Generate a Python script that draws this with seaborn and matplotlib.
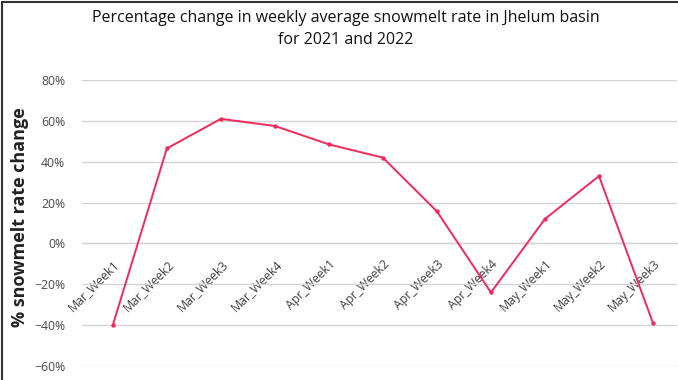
import matplotlib
matplotlib.use("Agg")
import matplotlib.pyplot as plt
import matplotlib.lines as mlines
from matplotlib.ticker import PercentFormatter
import seaborn as sns
import pandas as pd

weeks = ["Mar_Week1", "Mar_Week2", "Mar_Week3", "Mar_Week4",
         "Apr_Week1", "Apr_Week2", "Apr_Week3", "Apr_Week4",
         "May_Week1", "May_Week2", "May_Week3"]
pct_change = [-0.40, 0.465, 0.61, 0.575, 0.485, 0.42, 0.157, -0.24, 0.12, 0.33, -0.39]
y_ticks = [-0.6, -0.4, -0.2, 0.0, 0.2, 0.4, 0.6, 0.8]

sns.set_theme(style="white")
plt.rcParams["font.family"] = ["Open Sans", "DejaVu Sans"]

df = pd.DataFrame({"idx": range(len(weeks)), "week": weeks, "change": pct_change})

fig = plt.figure(figsize=(6.78, 3.80), dpi=100)
ax = fig.add_axes([0.121, 0.0368, 0.878, 0.7526])

sns.lineplot(data=df, x="idx", y="change", ax=ax, color="#F2295C",
             linewidth=1.4, marker="o", markersize=3.2,
             markeredgewidth=0, zorder=3)

ax.set_xlim(-0.57, 10.45)
ax.set_ylim(-0.6, 0.8)
ax.set_yticks(y_ticks)
ax.yaxis.set_major_formatter(PercentFormatter(1.0, decimals=0))
ax.yaxis.grid(True, color="#D4D4D4", linewidth=1.0)
ax.set_axisbelow(True)

for s in ["top", "right", "left"]:
    ax.spines[s].set_visible(False)
ax.spines["bottom"].set_position(("data", 0))
ax.spines["bottom"].set_color("#D4D4D4")
ax.spines["bottom"].set_linewidth(1.0)

ax.set_xticks(range(len(weeks)))
ax.set_xticklabels(weeks, rotation=45, ha="right", rotation_mode="anchor",
                   fontsize=8.8, color="#404040")
ax.tick_params(axis="x", length=0, pad=10)
ax.tick_params(axis="y", length=0, pad=12, labelsize=8.8, labelcolor="#4a4a4a")
for lbl in ax.get_yticklabels():
    lbl.set_horizontalalignment("right")

ax.set_xlabel("")
ax.set_ylabel("% snowmelt rate change", fontsize=13, fontweight="bold",
              color="#222222")
ax.yaxis.set_label_coords(-0.089, 0.52)

fig.text(0.51, 0.925, "Percentage change in weekly average snowmelt rate in Jhelum basin\nfor 2021 and 2022",
         ha="center", va="center", fontsize=11.5, color="#111111",
         fontweight="medium", linespacing=1.5)

# chart frame on the left and top
fig.add_artist(mlines.Line2D([0.003, 0.003], [0.0, 0.995], transform=fig.transFigure,
                             color="#333333", linewidth=1.5))
fig.add_artist(mlines.Line2D([0.003, 1.0], [0.995, 0.995], transform=fig.transFigure,
                             color="#333333", linewidth=1.5))

fig.savefig("out.png", dpi=100)
